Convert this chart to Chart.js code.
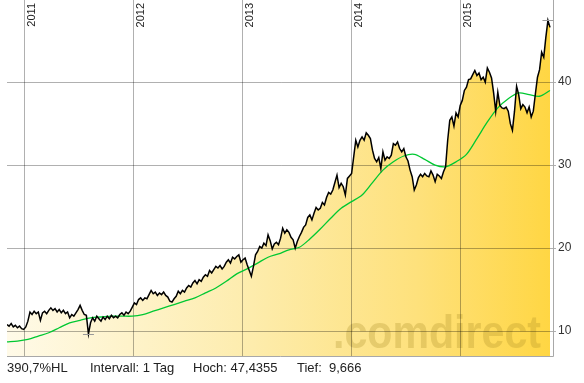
<!DOCTYPE html>
<html><head><meta charset="utf-8">
<script src="https://cdn.jsdelivr.net/npm/chart.js@4/dist/chart.umd.min.js"></script>
<style>
html,body{margin:0;padding:0;background:#fff;}
#wrap{position:relative;width:584px;height:383px;overflow:hidden;}
canvas{position:absolute;left:0;top:0;}
.info{position:absolute;top:361px;font:13px "Liberation Sans",Arial,sans-serif;line-height:13px;color:#222;white-space:pre;}
</style></head><body>
<div id="wrap"><canvas id="c" width="584" height="383"></canvas>
<span class="info" style="left:7px">390,7%HL</span>
<span class="info" style="left:90px">Intervall: 1 Tag</span>
<span class="info" style="left:193px">Hoch: 47,4355</span>
<span class="info" style="left:297px">Tief:  9,666</span>
</div>
<script>
// ---- data ----
const startDate = '2010-11-04';
const stepDays = 7;               // weekly samples
const closeWeekly = [
 10.8,10.6,10.9,10.5,10.7,10.4,10.6,10.3,10.2,10.5,
 11.2,12.3,12.0,12.4,12.1,12.3,11.3,12.2,12.4,12.1,
 12.5,12.8,12.5,12.7,12.3,12.6,12.2,12.5,12.1,12.3,
 11.6,12.0,11.8,12.2,12.6,13.1,12.5,12.0,11.9,9.666,
 11.0,11.6,11.2,11.8,11.5,11.2,11.7,11.4,11.8,11.5,
 11.9,11.6,11.8,11.6,12.0,12.2,11.9,12.3,12.1,12.4,
 12.9,13.4,13.2,13.8,14.0,13.7,14.0,13.9,14.4,14.9,
 14.5,14.7,14.3,14.6,14.4,14.7,14.3,14.1,13.6,13.5,
 13.9,14.2,14.8,14.5,14.9,14.7,15.2,15.5,15.3,15.8,
 16.1,15.7,16.2,16.0,16.5,16.8,16.6,17.3,17.0,17.4,
 17.8,17.6,17.9,17.5,17.8,18.3,18.6,18.2,18.9,18.7,
 19.0,19.2,18.3,18.6,18.8,18.0,17.3,16.6,17.8,19.2,
 19.6,20.2,20.0,20.6,20.3,21.6,20.9,19.9,20.5,20.7,
 20.4,21.2,22.4,21.8,22.2,21.9,21.3,21.0,20.0,20.8,
 21.4,21.9,22.5,22.8,23.7,24.0,23.4,24.2,24.9,24.6,
 24.8,25.5,25.2,26.1,26.7,26.5,27.0,27.9,28.8,27.3,
 27.8,27.4,26.4,28.4,28.7,29.0,31.0,33.0,32.2,33.0,
 33.4,33.0,33.9,33.6,33.2,31.8,30.8,30.4,30.9,29.6,
 31.6,30.6,31.0,30.8,31.2,32.6,32.4,32.8,32.0,31.6,
 32.0,31.0,30.5,29.4,28.6,27.0,27.6,28.5,28.9,28.6,
 29.0,28.7,28.6,29.3,28.8,28.0,28.9,28.7,28.4,29.2,
 29.8,33.0,35.4,35.8,34.7,36.3,35.8,37.2,37.8,39.0,
 39.4,40.3,40.4,40.9,41.4,40.8,41.1,40.3,40.6,40.0,
 41.7,41.2,40.5,38.7,36.5,38.8,37.2,36.9,36.8,37.0,
 36.5,35.0,34.2,36.5,39.5,38.5,36.8,37.3,37.0,36.3,
 37.0,35.8,36.5,38.6,40.6,41.5,43.6,43.0,45.4,47.4355,46.6
];
const maStepWeeks = 5;            // moving average sampled every 5 weeks
const movingAvg = [
 8.7,8.8,9.0,9.4,9.8,10.4,11.0,11.3,11.6,11.7,
 11.8,11.8,11.8,12.0,12.4,12.8,13.2,13.6,14.0,14.6,
 15.2,16.0,16.9,17.5,18.2,18.9,19.3,19.8,20.1,21.1,
 22.3,23.6,24.8,25.6,26.4,27.9,29.4,30.4,31.1,31.3,
 30.7,30.0,29.8,30.4,31.3,33.2,35.2,36.9,38.0,38.7,
 38.5,38.3,39.0
];
const yTicks = [10, 20, 30, 40];
const yearLabels = ['2011', '2012', '2013', '2014', '2015'];
const watermark = '.comdirect';

// ---- build ----
const dayMs = 86400000;
const startMs = Date.parse(startDate + 'T00:00:00Z');
const pricePts = closeWeekly.map((v, i) => ({x: startMs + i * stepDays * dayMs, y: v}));
const maPts = movingAvg.map((v, i) => ({x: startMs + i * maStepWeeks * stepDays * dayMs, y: v}));
const xMin = startMs, xMax = startMs + 1830 * dayMs;

function fillGrad(ctx) {
  const ch = ctx.chart, a = ch.chartArea;
  if (!a) return '#ffe9a0';
  const g = ch.ctx.createLinearGradient(a.left, 0, a.right, 0);
  g.addColorStop(0, 'rgb(255,250,232)');
  g.addColorStop(0.45, 'rgb(253,236,172)');
  g.addColorStop(0.75, 'rgb(254,225,124)');
  g.addColorStop(1, 'rgb(255,214,66)');
  return g;
}

const decor = {
  id: 'decor',
  afterDatasetDraw(chart, args) {
    if (args.index !== 2) return;
    const {ctx, chartArea: a, scales: {x, y}} = chart;
    // watermark
    ctx.save();
    ctx.font = 'bold 46px "Liberation Sans", Arial, sans-serif';
    const w = ctx.measureText(watermark).width;
    ctx.translate(333, 348);
    ctx.scale(208 / w, 1);
    ctx.fillStyle = 'rgba(165,135,35,0.27)';
    ctx.textBaseline = 'alphabetic';
    ctx.fillText(watermark, 0, 0);
    ctx.restore();
    // grid
    ctx.save();
    ctx.globalCompositeOperation = 'multiply';
    ctx.strokeStyle = '#b0b0b0';
    ctx.lineWidth = 1;
    ctx.beginPath();
    yTicks.forEach(v => {
      const py = Math.round(y.getPixelForValue(v)) + 0.5;
      ctx.moveTo(a.left, py); ctx.lineTo(a.right + 3, py);
    });
    yearLabels.forEach(l => {
      const px = Math.round(x.getPixelForValue(Date.UTC(+l, 0, 1))) + 0.5;
      ctx.moveTo(px, a.top); ctx.lineTo(px, a.bottom);
    });
    ctx.stroke();
    ctx.restore();
  },
  afterDraw(chart) {
    const {ctx, chartArea: a, scales: {x, y}} = chart;
    ctx.save();
    // borders
    ctx.strokeStyle = '#a8a8a8';
    ctx.lineWidth = 1;
    ctx.beginPath();
    ctx.moveTo(Math.round(a.right) + 0.5, 0);
    ctx.lineTo(Math.round(a.right) + 0.5, Math.round(a.bottom) + 0.5);
    ctx.lineTo(a.left, Math.round(a.bottom) + 0.5);
    ctx.stroke();
    // high / low markers
    let hi = 0, lo = 0;
    closeWeekly.forEach((v, i) => { if (v > closeWeekly[hi]) hi = i; if (v < closeWeekly[lo]) lo = i; });
    ctx.strokeStyle = '#999';
    ctx.beginPath();
    [hi, lo].forEach(i => {
      const px = x.getPixelForValue(pricePts[i].x), py = Math.round(y.getPixelForValue(pricePts[i].y)) + 0.5;
      ctx.moveTo(px - 5.5, py); ctx.lineTo(px + 5.5, py);
    });
    ctx.stroke();
    // year labels
    ctx.fillStyle = '#222';
    ctx.font = '11px "Liberation Sans", Arial, sans-serif';
    ctx.textAlign = 'right';
    ctx.textBaseline = 'top';
    yearLabels.forEach(l => {
      const px = Math.round(x.getPixelForValue(Date.UTC(+l, 0, 1))) + 2.5;
      ctx.save();
      ctx.translate(px, 3);
      ctx.rotate(-Math.PI / 2);
      ctx.fillText(l, 0, 0);
      ctx.restore();
    });
    ctx.restore();
  }
};

new Chart(document.getElementById('c'), {
  type: 'line',
  data: {
    datasets: [
      {data: pricePts, borderColor: '#000', borderWidth: 1.5, pointRadius: 0, fill: false, order: 0, tension: 0},
      {data: maPts, borderColor: '#00c832', borderWidth: 1.3, pointRadius: 0, fill: false, order: 1, tension: 0.3},
      {data: pricePts, borderColor: 'rgba(0,0,0,0)', borderWidth: 0, pointRadius: 0, fill: 'start', backgroundColor: fillGrad, order: 2}
    ]
  },
  options: {
    responsive: false,
    animation: false,
    devicePixelRatio: 1,
    layout: {padding: {left: 7, right: 0, top: 0, bottom: 27}},
    plugins: {legend: {display: false}, tooltip: {enabled: false}},
    scales: {
      x: {type: 'linear', min: xMin, max: xMax, display: false},
      y: {
        type: 'linear', position: 'right', min: 7.0, max: 49.9,
        grid: {display: false, drawTicks: false},
        border: {display: false},
        ticks: {font: {size: 12, family: '"Liberation Sans", Arial, sans-serif'}, color: '#333', padding: 5},
        afterBuildTicks: s => { s.ticks = yTicks.map(v => ({value: v})); },
        afterFit: s => { s.width = 31; s.paddingTop = 0; s.paddingBottom = 0; }
      }
    }
  },
  plugins: [decor]
});
</script>
</body></html>
